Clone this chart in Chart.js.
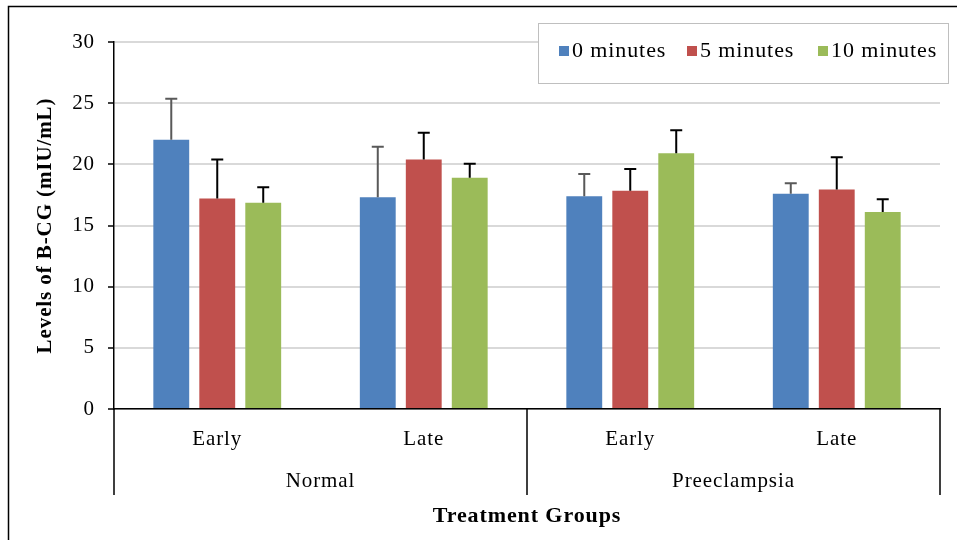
<!DOCTYPE html>
<html>
<head>
<meta charset="utf-8">
<script src="https://cdn.jsdelivr.net/npm/chart.js@4/dist/chart.umd.min.js"></script>
<style>
html,body{margin:0;padding:0;background:#fff;}
#wrap{width:957px;height:540px;position:relative;}
</style>
</head>
<body>
<div id="wrap"><canvas id="c" width="957" height="540"></canvas></div>
<script>
const categories = ["Early", "Late", "Early", "Late"];
const groups = ["Normal", "Preeclampsia"];
const seriesNames = ["0 minutes", "5 minutes", "10 minutes"];
const values0 = [22.0, 17.3, 17.4, 17.6];
const values5 = [17.2, 20.4, 17.85, 17.95];
const values10 = [16.85, 18.9, 20.9, 16.1];
const err0 = [3.37, 4.14, 1.8, 0.85];
const err5 = [3.2, 2.18, 1.77, 2.62];
const err10 = [1.28, 1.15, 1.88, 1.04];
const yTicks = [0, 5, 10, 15, 20, 25, 30];

const FONT = '"Liberation Serif", "Times New Roman", serif';
const FS = 21;
const SPACING = '0.9px';
const colors = ['#4F81BD', '#C0504D', '#9BBB59'];
const errColors = ['#595959', '#000000', '#000000'];
const errs = [err0, err5, err10];

function setSpacing(chart) {
  try { chart.ctx.letterSpacing = SPACING; } catch (e) {}
}

const decorPlugin = {
  id: 'decor',
  beforeUpdate: setSpacing,
  beforeLayout: setSpacing,
  beforeDraw: setSpacing,
  afterDatasetsDraw(chart) {
    const ctx = chart.ctx;
    const y = chart.scales.y;
    chart.data.datasets.forEach((ds, di) => {
      const meta = chart.getDatasetMeta(di);
      meta.data.forEach((el, i) => {
        const v = ds.data[i];
        const top = y.getPixelForValue(v + errs[di][i]);
        ctx.save();
        ctx.strokeStyle = errColors[di];
        ctx.lineWidth = 2;
        ctx.beginPath();
        ctx.moveTo(el.x, el.y);
        ctx.lineTo(el.x, top);
        ctx.moveTo(el.x - 6, top);
        ctx.lineTo(el.x + 6, top);
        ctx.stroke();
        ctx.restore();
      });
    });
  },
  afterDraw(chart) {
    const ctx = chart.ctx;
    const x = chart.scales.x;
    const ca = chart.chartArea;
    ctx.save();
    try { ctx.letterSpacing = SPACING; } catch (e) {}
    // outer frame (top and left)
    ctx.strokeStyle = '#000';
    ctx.lineWidth = 1.5;
    ctx.beginPath();
    ctx.moveTo(8.5, 540);
    ctx.lineTo(8.5, 6.5);
    ctx.lineTo(957, 6.5);
    ctx.stroke();
    // category group separators
    const mid = (x.getPixelForValue(1) + x.getPixelForValue(2)) / 2;
    ctx.lineWidth = 1.5;
    ctx.beginPath();
    [ca.left, mid, ca.right].forEach(px => {
      ctx.moveTo(px, ca.bottom);
      ctx.lineTo(px, 495);
    });
    ctx.stroke();
    // group labels
    ctx.fillStyle = '#000';
    ctx.font = FS + 'px ' + FONT;
    ctx.textAlign = 'center';
    ctx.textBaseline = 'middle';
    groups.forEach((g, gi) => {
      const cx = (x.getPixelForValue(gi * 2) + x.getPixelForValue(gi * 2 + 1)) / 2;
      ctx.fillText(g, cx, 481);
    });
    // legend
    const lx = 538, ly = 23, lw = 410, lh = 60;
    ctx.fillStyle = '#fff';
    ctx.fillRect(lx, ly, lw, lh);
    ctx.strokeStyle = '#bfbfbf';
    ctx.lineWidth = 1;
    ctx.strokeRect(lx + 0.5, ly + 0.5, lw, lh);
    ctx.textAlign = 'left';
    ctx.font = '22px ' + FONT;
    const starts = [559, 687, 818];
    chart.data.datasets.forEach((ds, di) => {
      ctx.fillStyle = ds.backgroundColor;
      ctx.fillRect(starts[di], 46, 10, 10);
      ctx.fillStyle = '#000';
      ctx.fillText(ds.label, starts[di] + 13, 51);
    });
    ctx.restore();
  }
};

new Chart(document.getElementById('c'), {
  type: 'bar',
  data: {
    labels: categories,
    datasets: [
      { label: seriesNames[0], data: values0, backgroundColor: colors[0] },
      { label: seriesNames[1], data: values5, backgroundColor: colors[1] },
      { label: seriesNames[2], data: values10, backgroundColor: colors[2] }
    ]
  },
  options: {
    responsive: false,
    animation: false,
    layout: { padding: { left: 8, top: 42, right: 17, bottom: 0 } },
    datasets: { bar: { categoryPercentage: 0.668, barPercentage: 0.78 } },
    plugins: { legend: { display: false }, tooltip: { enabled: false } },
    scales: {
      x: {
        afterFit(s) { s.height = 131; },
        grid: { display: false, drawTicks: false },
        border: { display: true, color: '#000', width: 1.5 },
        ticks: { color: '#000', font: { family: FONT, size: FS }, padding: 18 },
        title: { display: true, text: 'Treatment Groups', color: '#000',
                 font: { family: FONT, size: 22, weight: 'bold' }, padding: { top: 0, bottom: 10 } }
      },
      y: {
        min: 0, max: 30,
        afterFit(s) { s.width = 106; },
        afterBuildTicks(s) { s.ticks = yTicks.map(v => ({ value: v })); },
        grid: { color: '#d9d9d9', lineWidth: 2, tickColor: '#000', tickLength: 6, tickWidth: 1.5 },
        border: { display: true, color: '#000', width: 1.5 },
        ticks: { color: '#000', font: { family: FONT, size: FS }, padding: 13 },
        title: { display: true, text: 'Levels of B-CG (mIU/mL)', color: '#000',
                 font: { family: FONT, size: FS, weight: 'bold' }, padding: { top: 25, bottom: 0 } }
      }
    }
  },
  plugins: [decorPlugin]
});
</script>
</body>
</html>
